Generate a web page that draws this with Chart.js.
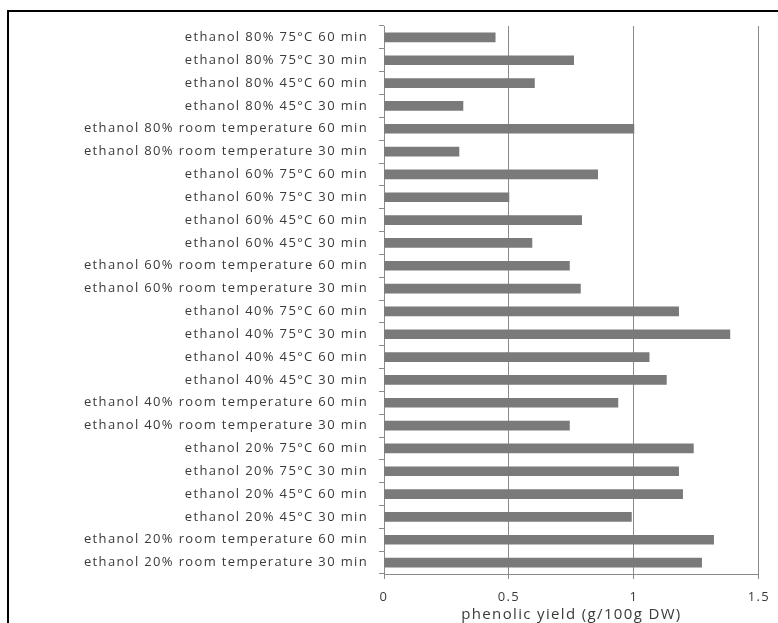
<!DOCTYPE html>
<html>
<head>
<meta charset="utf-8">
<script src="https://cdn.jsdelivr.net/npm/chart.js@4"></script>
<style>
  html, body { margin: 0; padding: 0; background: #fff; overflow: hidden; width: 778px; height: 623px; }
  #frame { position: absolute; left: 7px; top: 10px; width: 900px; height: 800px;
           border-left: 2px solid #000; border-top: 2px solid #000; box-sizing: border-box; }
  #wrap { position: absolute; left: 0; top: 0; width: 778px; height: 640px; }
</style>
</head>
<body>
<div id="frame"></div>
<div id="wrap"><canvas id="c"></canvas></div>
<script>
const categories = [
  "ethanol 80% 75°C 60 min",
  "ethanol 80% 75°C 30 min",
  "ethanol 80% 45°C 60 min",
  "ethanol 80% 45°C 30 min",
  "ethanol 80% room temperature 60 min",
  "ethanol 80% room temperature 30 min",
  "ethanol 60% 75°C 60 min",
  "ethanol 60% 75°C 30 min",
  "ethanol 60% 45°C 60 min",
  "ethanol 60% 45°C 30 min",
  "ethanol 60% room temperature 60 min",
  "ethanol 60% room temperature 30 min",
  "ethanol 40% 75°C 60 min",
  "ethanol 40% 75°C 30 min",
  "ethanol 40% 45°C 60 min",
  "ethanol 40% 45°C 30 min",
  "ethanol 40% room temperature 60 min",
  "ethanol 40% room temperature 30 min",
  "ethanol 20% 75°C 60 min",
  "ethanol 20% 75°C 30 min",
  "ethanol 20% 45°C 60 min",
  "ethanol 20% 45°C 30 min",
  "ethanol 20% room temperature 60 min",
  "ethanol 20% room temperature 30 min"
];
const phenolicYield = [
  0.445, 0.759, 0.602, 0.316, 1.0, 0.300,
  0.855, 0.500, 0.791, 0.592, 0.742, 0.786,
  1.179, 1.384, 1.061, 1.130, 0.936, 0.742,
  1.238, 1.179, 1.195, 0.990, 1.319, 1.271
];
const xTicks = [0, 0.5, 1, 1.5];
const xTitle = "phenolic yield (g/100g DW)";

const gridGray = "#8a8a8a";
const textColor = "#3a3a3a";
const fontFamily = "'Open Sans', 'DejaVu Sans', sans-serif";

const spacingPlugin = {
  id: "spacing",
  beforeDraw(chart) { chart.ctx.letterSpacing = "1.35px"; }
};

new Chart(document.getElementById("c"), {
  type: "bar",
  data: {
    labels: categories,
    datasets: [{
      data: phenolicYield,
      backgroundColor: "#7a7a7a",
      borderWidth: 0,
      barThickness: 9
    }]
  },
  plugins: [spacingPlugin],
  options: {
    indexAxis: "y",
    responsive: true,
    maintainAspectRatio: false,
    animation: false,
    layout: { padding: { top: 26, left: 10, right: 18, bottom: 0 } },
    plugins: { legend: { display: false }, tooltip: { enabled: false } },
    scales: {
      y: {
        type: "category",
        offset: true,
        afterFit: (s) => { s.width = 374; },
        grid: { offset: true, drawOnChartArea: false, drawTicks: true, tickLength: 5, color: gridGray },
        border: { display: true, color: gridGray, width: 1 },
        ticks: { color: textColor, padding: 11, font: { family: fontFamily, size: 13 }, autoSkip: false }
      },
      x: {
        min: 0, max: 1.5,
        afterBuildTicks: (s) => { s.ticks = xTicks.map(v => ({ value: v })); },
        afterFit: (s) => { s.height = 66; },
        grid: { color: gridGray, tickLength: 5, drawTicks: true },
        border: { display: true, color: gridGray, width: 1 },
        ticks: { color: textColor, padding: 10, font: { family: fontFamily, size: 13 },
                 callback: (v) => String(v) },
        title: { display: true, text: xTitle, color: textColor, padding: { top: 0, bottom: 16 },
                 font: { family: fontFamily, size: 15 } }
      }
    }
  }
});
</script>
</body>
</html>
